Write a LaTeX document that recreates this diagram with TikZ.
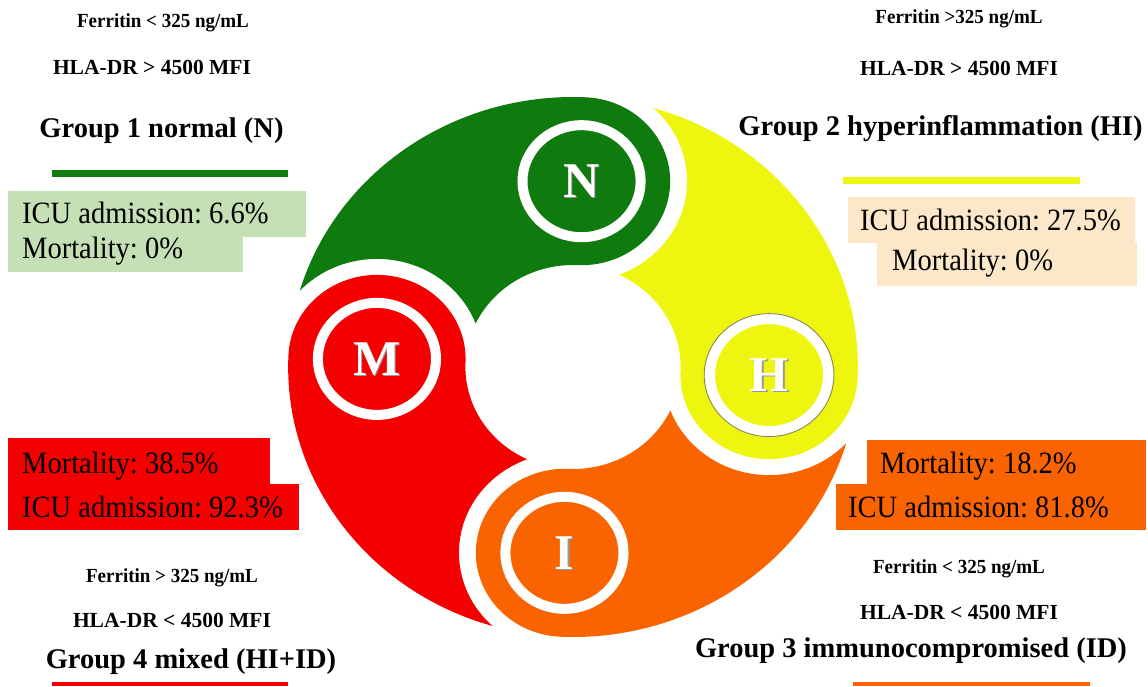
\documentclass[tikz,border=0pt]{standalone}
\usepackage{fontspec}
\setmainfont{Liberation Serif}
\newfontfamily\statfont[FakeStretch=0.92]{Liberation Serif}
\newfontfamily\critfont[FakeStretch=0.95]{Liberation Serif}
\frenchspacing
\definecolor{cgreen}{RGB}{15,123,15}
\definecolor{cyellow}{RGB}{238,246,16}
\definecolor{cred}{RGB}{244,0,0}
\definecolor{corange}{RGB}{249,100,0}
\definecolor{boxgreen}{RGB}{198,224,182}
\definecolor{boxbeige}{RGB}{252,232,200}
\tikzset{
  crit/.style={font=\critfont\bfseries\fontsize{20}{22}\selectfont, inner sep=0pt, anchor=base},
  hla/.style={font=\bfseries\fontsize{21.5}{23}\selectfont, inner sep=0pt, anchor=base},
  title/.style={font=\bfseries\fontsize{28.5}{30}\selectfont, inner sep=0pt, anchor=base},
  stat/.style={font=\statfont\fontsize{31}{33}\selectfont, inner sep=0pt, anchor=base west},
  letter/.style={font=\bfseries\fontsize{50}{52}\selectfont, text=white, inner sep=0pt},
}
\begin{document}
\begin{tikzpicture}[x=1pt,y=-1pt]
\useasboundingbox (0,0) rectangle (1148,686);

% ---- ring ----
\begin{scope}[shift={(573,367)}, xscale=1.055, yscale=-1]
  \foreach \ang/\col in {87.5/cgreen, 177.5/cred, 267.5/corange, -2.5/cyellow}{
    \pgfmathsetmacro\aA{\ang+180}
    \pgfmathsetmacro\aB{\ang+360}
    \pgfmathsetmacro\aC{\ang+76.09}
    \pgfmathsetmacro\aD{\ang+49.53}
    \pgfmathsetmacro\aE{\ang-66.8}
    \pgfmathsetmacro\aF{\ang+67.28}
    \fill[\col] (\ang:102) arc[start angle=\aA, end angle=\aB, radius=84]
      arc[start angle=\ang, end angle=\aC, radius=270]
      arc[start angle=\aD, end angle=\aE, radius=100]
      arc[start angle=\aF, end angle=\ang, radius=102] -- cycle;
  }
  \foreach \ang/\nm in {87.5/N, 177.5/M, 267.5/I, -2.5/H}{
    \coordinate (c\nm) at (\ang:186);
    \draw[white, line width=10] (c\nm) circle[radius=56];
    \node[letter, text=black!40] (S\nm) at ([shift={(1.3,-1.3)}]c\nm) {\nm};
    \node[letter] (L\nm) at (c\nm) {\nm};
  }
  \draw[gray, line width=0.8] (cH) circle[radius=61.5];
\end{scope}

% ---- Group 1 ----
\node[crit] (f1) at (163,27) {Ferritin < 325 ng/mL};
\node[hla] (h1) at (152,74) {HLA-DR > 4500 MFI};
\node[title] (g1) at (161.5,137) {Group 1 normal (N)};
\fill[cgreen] (52,170) rectangle (288,177);
\fill[boxgreen] (8,191) rectangle (306,237);
\fill[boxgreen] (8,236) rectangle (243,272);
\node[stat] (i1) at (22,223) {ICU admission: 6.6\%};
\node[stat] (m1) at (22,258) {Mortality: 0\%};

% ---- Group 2 ----
\node[crit] (f2) at (959,23) {Ferritin >325 ng/mL};
\node[hla] (h2) at (959,75) {HLA-DR > 4500 MFI};
\node[title] (g2) at (940.5,135) {Group 2 hyperinflammation (HI)};
\fill[cyellow] (843,177) rectangle (1080,184);
\fill[boxbeige] (848,197) rectangle (1135,243);
\fill[boxbeige] (877,242) rectangle (1137,286);
\node[stat] (i2) at (860,230) {ICU admission: 27.5\%};
\node[stat] (m2) at (892,270) {Mortality: 0\%};

% ---- Group 4 ----
\fill[cred] (8,438) rectangle (270,485);
\fill[cred] (8,484) rectangle (299,530);
\node[stat] (m4) at (22,473) {Mortality: 38.5\%};
\node[stat] (i4) at (22,517) {ICU admission: 92.3\%};
\node[crit] (f4) at (172,582) {Ferritin > 325 ng/mL};
\node[hla] (h4) at (172,627) {HLA-DR < 4500 MFI};
\node[title] (g4) at (191,668) {Group 4 mixed (HI+ID)};
\fill[cred] (52,682) rectangle (288,686);

% ---- Group 3 ----
\fill[corange] (867,440) rectangle (1146,485);
\fill[corange] (836,484) rectangle (1146,530);
\node[stat] (m3) at (880,473) {Mortality: 18.2\%};
\node[stat] (i3) at (848,517) {ICU admission: 81.8\%};
\node[crit] (f3) at (959,573) {Ferritin < 325 ng/mL};
\node[hla] (h3) at (959,619) {HLA-DR < 4500 MFI};
\node[title] (g3) at (911,657) {Group 3 immunocompromised (ID)};
\fill[corange] (853,682) rectangle (1090,686);
\end{tikzpicture}
\end{document}
